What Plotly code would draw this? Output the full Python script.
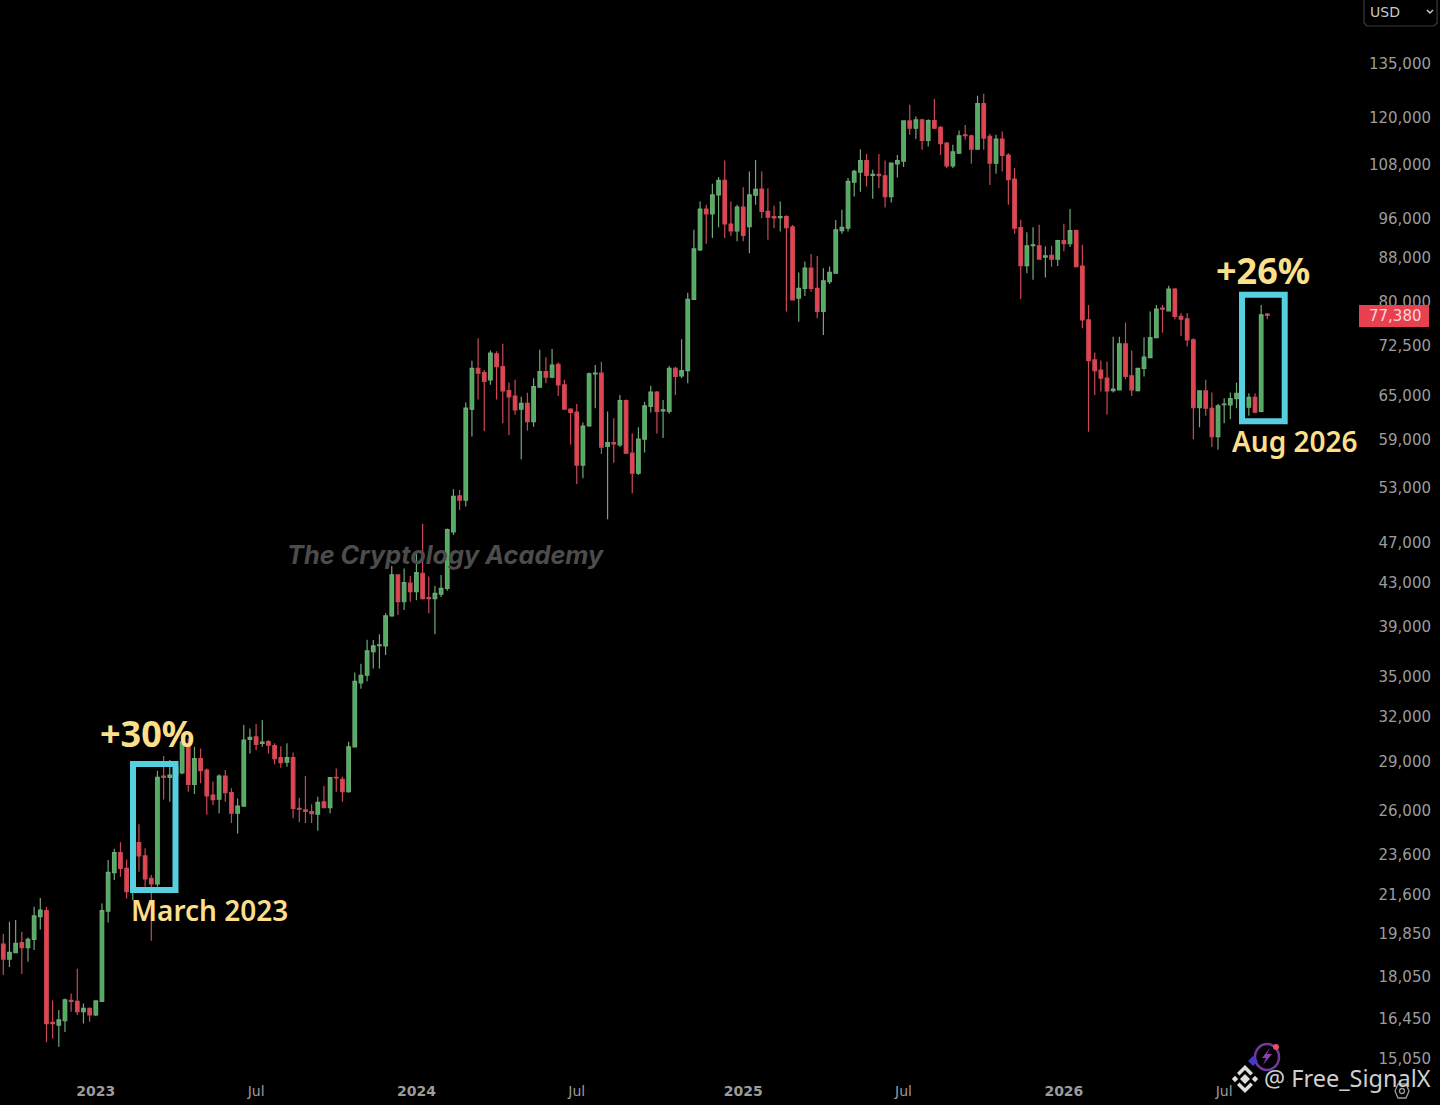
import plotly.graph_objects as go
import pandas as pd
import numpy as np

# Weekly candles
opens = [19350,18720,18990,19410,19200,19550,20560,20830,16280,16180,
16340,17090,17050,16670,16790,16550,17050,20810,22650,23670,
22860,21770,24200,23500,22370,22090,28030,27950,28090,28220,
30000,27520,29130,28400,26880,26630,28030,27020,25820,26230,
30390,30560,30120,30230,29980,29190,28900,29190,26100,26010,
25920,25770,26480,26140,27950,27830,27080,29890,34420,35000,
36870,37360,37340,39890,43670,41160,42880,42080,43830,41540,
41450,41850,42400,48020,51980,51500,62930,68870,68230,67140,
71100,69120,65560,64770,62930,63750,61240,66050,68380,67540,
69460,66400,62930,62520,55630,60640,68030,68130,57970,58470,
58170,64120,57110,54640,58900,63300,65360,62700,62610,68870,
67730,68520,80160,89410,97830,96810,100930,104200,94660,93240,
98260,94120,100860,102250,97320,96230,96020,96230,94050,80370,
82130,85880,82130,78050,83380,84940,93310,93780,103810,106150,
108870,105370,105600,105290,100570,108090,108710,118810,116920,119080,
113820,118900,117170,113170,107620,110640,115250,114990,111640,123410,
114830,108240,114160,110220,104510,93930,86360,90230,90230,88000,
88330,87600,91280,90630,93300,86290,76640,70150,68610,67390,
65570,65670,72680,67730,65570,68850,70520,73690,78630,78170,
82010,77210,76810,73310,63150,65520,63060,59230,63560,63510,
64400,64900,63200,64590,62610,77600]

highs = [19800,20330,20400,19880,19630,21010,21420,21010,17090,16730,
17160,17350,18330,16970,16820,17090,21160,23290,23870,24220,
23320,24170,25200,23900,22530,28360,29300,29040,28700,30780,
30450,29890,29780,28500,27690,28140,28400,27280,26670,31370,
31130,31440,31720,30340,30120,29930,30120,29520,26720,28030,
26340,26770,27420,27930,28500,27990,30230,35210,35910,37850,
37830,38320,40130,44530,43700,44300,43570,45870,48870,43510,
42620,43670,48370,52740,52660,63850,70030,73590,68620,71630,
71500,72690,66740,67140,64670,65260,67390,71730,70570,71840,
69770,67140,63070,63660,61100,68230,69360,69880,62610,61700,
64920,64300,59660,60460,63980,66250,65510,64210,69220,69120,
73430,81340,93450,99490,98770,103420,104980,108870,99490,98770,
102640,106300,109020,106300,102410,98550,99490,96500,94450,85070,
87130,88610,88200,85880,86190,95510,97680,104750,106690,111640,
110470,106690,110470,108870,108400,110220,118900,123140,119980,119400,
119260,124670,117510,113400,112750,116340,117760,115250,125580,126120,
115500,115250,116080,110640,107080,95560,92940,94000,94500,90100,
90230,91420,94710,97830,93500,90430,79200,71310,70050,69890,
73840,73840,76190,71630,68950,73740,78060,79200,79200,82620,
82190,77780,77780,73580,65570,67140,65280,63650,64450,65280,
66750,66000,65180,65180,79200,77800]

lows = [18070,18400,18960,18110,18610,19100,19980,15580,15710,15430,
15940,16670,16550,16240,16300,16510,17030,20290,22290,22450,
21390,21310,22700,21960,19490,21960,26610,26480,27880,28140,
27080,26940,27590,25730,26290,25820,26480,25270,24690,26200,
29450,29670,29890,29450,28770,28540,28600,25540,25310,25270,
25270,24840,26100,25820,27080,26480,27020,29870,33980,34540,
35530,35530,36600,39830,39980,40420,41160,41300,41360,40130,
38320,41600,42170,47680,50400,50770,59240,64300,59960,66400,
64300,61000,59450,62150,56340,60000,60550,66000,66650,67390,
64770,62840,58170,53370,54050,60550,63070,57020,49360,55920,
57880,57020,52270,54440,57190,62470,59660,59040,62290,64920,
67390,66650,80080,89210,90620,91770,93980,91770,92240,91140,
91140,88740,98770,95870,91430,93780,93110,78050,79960,76310,
80780,81530,76890,74130,82950,84820,92640,93110,100570,101660,
102800,100070,102410,98190,99270,104900,107310,115250,114160,111480,
112310,116700,110220,107080,107080,110470,113990,108090,111480,111480,
103190,105750,106300,98770,92640,80230,84940,83720,87470,84140,
86160,86290,89120,89970,86000,75220,59880,64940,65430,62150,
65280,65570,67240,64790,65430,67630,70420,73580,74480,78060,
76750,73950,72260,58890,60470,62020,57880,57540,61020,61560,
63060,63800,62020,62380,62500,76750]

closes = [18720,19000,19380,19200,19550,20590,20860,16240,16240,16370,
17110,17050,16670,16790,16550,17070,20830,22660,23670,22860,
21720,23720,23500,22340,22090,27950,27950,28090,28600,30220,
27520,29130,28360,26820,26610,28030,27020,25820,26230,30340,
30520,30050,30200,30000,29130,28870,29190,26100,26050,25920,
25790,26440,26140,27930,27910,27080,29890,34540,35000,36940,
37340,37420,39890,43670,41160,42940,42080,43890,41450,41450,
41920,42400,48260,51940,51500,63070,68870,68130,66890,71200,
69120,65510,64670,62840,63750,61240,66150,68380,67540,69360,
66400,62930,62470,55630,60640,68030,68130,57880,58470,58300,
64120,57110,54640,58900,63390,65360,62610,62840,68870,67640,
68520,80160,89620,97830,96810,100930,104200,94660,93240,98260,
92300,100930,102180,97320,96090,95950,96230,93920,80080,82130,
85880,82130,78050,83510,85070,93450,93980,103970,106300,108870,
105370,105600,105290,100570,108240,108870,118810,116920,119080,113820,
118900,116920,113000,107620,110970,114990,114990,111640,123410,114410,
108240,114160,110130,104360,93780,86360,90230,90430,87600,88260,
87600,91280,90630,93300,86160,76640,70050,68510,67390,65520,
65770,72680,67630,65670,68850,70580,73690,78460,78460,82010,
77210,76750,73310,63150,65520,63060,59230,63380,63650,64400,
65180,64300,64590,62520,77490,77380]

price_ticks = [135000,120000,108000,96000,88000,80000,72500,65000,59000,53000,
47000,43000,39000,35000,32000,29000,26000,23600,21600,19850,18050,16450,15050]
last_price = 77380

time_ticks = ['2023-01-02','2023-07-03','2024-01-01','2024-07-01','2025-01-06','2025-07-07','2026-01-05','2026-07-06']
time_labels = ['<b>2023</b>','Jul','<b>2024</b>','Jul','<b>2025</b>','Jul','<b>2026</b>','Jul']

dates = pd.date_range('2022-09-19', periods=len(opens), freq='7D')

W, H = 1440, 1105
GREEN = '#4CAF5C'
RED = '#E8434F'
GREEN_WICK = '#6FA878'
RED_WICK = '#C94A56'
CYAN = '#55D0E0'
YELLOW = '#FBDF8B'
TICK = '#9C9C9C'
FONT = 'Noto Sans'
AXIS_FONT = 'DejaVu Sans'

# overlay items are placed in page pixels
def px(x):
    return x / W

def py(y):
    return 1 - y / H

def poly(points, close=True):
    d = 'M ' + ' L '.join(f'{px(a):.5f} {py(b):.5f}' for a, b in points)
    return d + (' Z' if close else '')

def diamond(cx, cy, r):
    return poly([(cx, cy - r), (cx + r, cy), (cx, cy + r), (cx - r, cy)])

fig = go.Figure(go.Candlestick(
    x=dates, open=opens, high=highs, low=lows, close=closes,
    increasing=dict(line=dict(color=GREEN_WICK, width=1.2), fillcolor=GREEN),
    decreasing=dict(line=dict(color=RED_WICK, width=1.2), fillcolor=RED),
    showlegend=False
))

shapes = []
# highlight boxes
for x0, x1, y0, y1 in [(133, 175.5, 764, 890), (1242, 1284.7, 294.7, 421.3)]:
    shapes.append(dict(type='rect', xref='paper', yref='paper', x0=px(x0), x1=px(x1), y0=py(y0), y1=py(y1),
                       line=dict(color=CYAN, width=6)))
# last price tag
shapes.append(dict(type='rect', xref='paper', yref='paper', x0=px(1359), x1=px(1429), y0=py(305), y1=py(327),
                   fillcolor='#E8404F', line=dict(width=0)))
# currency box
shapes.append(dict(type='path', xref='paper', yref='paper', path=poly([(1364, -2), (1364, 23), (1367, 26), (1434, 26), (1437, 23), (1437, -2)], close=False),
                   line=dict(color='#3a3a3a', width=1.2)))
shapes.append(dict(type='path', xref='paper', yref='paper', path=poly([(1427, 10), (1430, 13), (1433, 10)], close=False),
                   line=dict(color='#d0d0d0', width=1.4)))
# binance logo
logo = '#DDDDDD'
for d in [diamond(1245, 1079, 5), diamond(1235, 1079, 3.2), diamond(1255, 1079, 3.2),
          poly([(1245, 1065), (1253, 1073), (1250.5, 1075.5), (1245, 1070), (1239.5, 1075.5), (1237, 1073)]),
          poly([(1245, 1093), (1253, 1085), (1250.5, 1082.5), (1245, 1088), (1239.5, 1082.5), (1237, 1085)])]:
    shapes.append(dict(type='path', xref='paper', yref='paper', path=d, fillcolor=logo, line=dict(width=0)))
# purple badge
shapes.append(dict(type='circle', xref='paper', yref='paper', x0=px(1255), x1=px(1279), y0=py(1044), y1=py(1070),
                   line=dict(color='#6E3A9E', width=2.5)))
shapes.append(dict(type='path', xref='paper', yref='paper', path=poly([(1270, 1048), (1262, 1058), (1266, 1058), (1263, 1065), (1272, 1054), (1267, 1054)]),
                   fillcolor='#8A3FB5', line=dict(width=0)))
shapes.append(dict(type='circle', xref='paper', yref='paper', x0=px(1273), x1=px(1279), y0=py(1044), y1=py(1050),
                   fillcolor='#E8505F', line=dict(width=0)))
shapes.append(dict(type='path', xref='paper', yref='paper', path=diamond(1253, 1061, 5), fillcolor='#4438C8', line=dict(width=0)))
# settings hexagon
shapes.append(dict(type='path', xref='paper', yref='paper',
                   path=poly([(1398, 1084), (1406, 1084), (1409, 1091), (1406, 1098), (1398, 1098), (1395, 1091)]),
                   line=dict(color='#9a9a9a', width=1.3)))
shapes.append(dict(type='circle', xref='paper', yref='paper', x0=px(1399.5), x1=px(1404.5), y0=py(1088.5), y1=py(1093.5),
                   line=dict(color='#9a9a9a', width=1.3)))

def note(text, x, y, size, color, anchor='center', family=FONT, **font):
    return dict(text=text, xref='paper', yref='paper', x=px(x), y=py(y), xanchor=anchor, yanchor='middle',
                showarrow=False, font=dict(family=family, size=size, color=color, **font))

annotations = [
    note('The Cryptology Academy', 445, 554, 25.3, '#4C4C4C', family='Inter', style='italic', weight=700),
    note('+30%', 147, 733, 36, YELLOW, weight=700),
    note('March 2023', 209, 910, 28, YELLOW, weight=600),
    note('+26%', 1263, 270, 36, YELLOW, weight=700),
    note('Aug 2026', 1295, 441, 28, YELLOW, weight=600),
    note('@ Free_SignalX', 1262, 1078, 23.5, '#CFCFCF', anchor='left'),
    note('USD', 1368, 12, 14, '#C8C8C8', anchor='left', family=AXIS_FONT),
    note(f'{last_price:,}', 1395, 316, 15, '#F6D6D8', family=AXIS_FONT),
]

fig.update_layout(
    width=W, height=H,
    margin=dict(l=0, r=0, t=0, b=0),
    paper_bgcolor='black',
    plot_bgcolor='black',
    showlegend=False,
    boxgap=0.2,
    boxgroupgap=0.28,
    shapes=shapes,
    annotations=annotations,
    xaxis=dict(
        type='date',
        range=[dates[0] - pd.Timedelta(days=3.75), dates[0] + pd.Timedelta(days=7 * 233)],
        rangeslider=dict(visible=False),
        tickmode='array', tickvals=time_ticks, ticktext=time_labels,
        ticklabelposition='inside', ticks='', ticklabelstandoff=3,
        tickfont=dict(family=AXIS_FONT, size=14, color=TICK),
        showgrid=False, zeroline=False, showline=False
    ),
    yaxis=dict(
        type='log', side='right',
        range=[np.log10(13570), np.log10(155120)],
        tickmode='array', tickvals=price_ticks, ticktext=[f'{v:,}' for v in price_ticks],
        ticklabelposition='inside', ticks='', ticklabelstandoff=6, ticklabelshift=1,
        tickfont=dict(family=AXIS_FONT, size=15, color=TICK),
        showgrid=False, zeroline=False, showline=False
    )
)

fig.write_html("out.html", config={'displayModeBar': False},
               post_script="document.body.style.margin='0';document.body.style.background='#000';")
